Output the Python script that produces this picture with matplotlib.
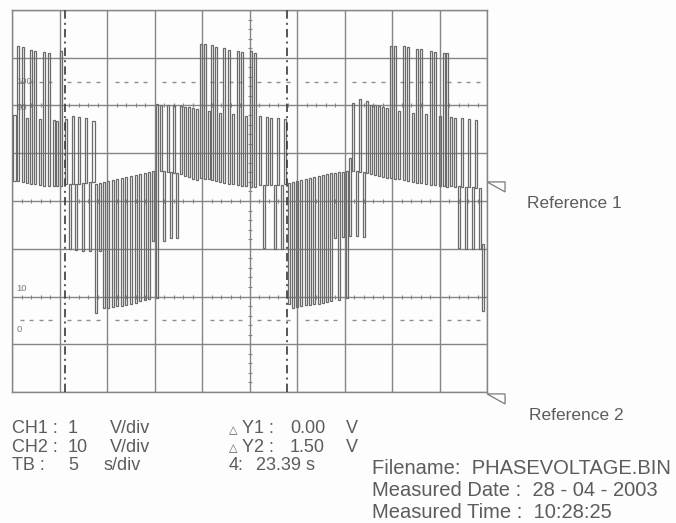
"""Scope printout: inverter phase voltage, CH2 10 V/div, TB 5 s/div."""
import matplotlib

matplotlib.use("Agg")

import matplotlib.pyplot as plt
import numpy as np
from matplotlib.patches import Polygon

INK = "#5c5c5c"
GRID = "#858585"
TRACE = "#6a6a6a"
FONT = ["Liberation Sans", "DejaVu Sans"]

# ---- trace: pulse centre (s), pulse top, pulse bottom
pulse_t = [
    0.25, 0.63, 1.16, 1.58, 2.00, 2.42, 2.95, 3.37, 3.89, 4.42, 4.74, 5.16,
    5.68, 6.11, 6.42, 6.74, 7.05, 7.47, 7.79, 8.21, 8.60,
    8.84, 9.26, 9.68, 10.11, 10.63, 11.05, 11.58, 12.00, 12.53, 13.05, 13.47,
    14.00, 14.42, 14.84, 15.26,
    15.68, 16.00, 16.42, 16.74, 17.05, 17.37, 17.79, 18.21, 18.63, 19.05, 19.47,
    19.89, 20.32, 20.74, 21.05, 21.47, 21.89, 22.32, 22.84, 23.26, 23.79, 24.21,
    24.63, 25.16, 25.58,
    26.11, 26.53, 26.84, 27.26, 27.68, 28.00, 28.42, 28.74,
    29.16, 29.58, 30.00, 30.42, 30.95, 31.37, 31.79, 32.32, 32.74, 33.16, 33.58,
    34.00, 34.42, 34.84, 35.26,
    35.58, 35.89, 36.32, 36.63, 37.05, 37.37, 37.79, 38.21, 38.63, 39.05, 39.47,
    39.89, 40.32, 40.74, 41.26, 41.68, 42.21, 42.63, 43.05, 43.58, 44.11, 44.53,
    45.05, 45.47, 45.79,
    46.21, 46.63, 47.05, 47.37, 47.79, 48.11, 48.53, 48.84, 49.26, 49.58,
]
pulse_hi = [
    86.0, 114.9, 114.5, 84.8, 113.2, 112.8, 84.3, 112.4, 112.0, 83.9, 83.5, 112.8,
    84.3, 57.1, 85.6, 57.1, 85.2, 57.5, 84.8, 58.0, 83.5,
    57.1, 57.5, 58.0, 58.4, 58.8, 59.2, 59.6, 60.1, 60.5, 60.9, 61.3,
    61.7, 62.1, 62.6, 90.6,
    90.2, 62.6, 90.2, 62.1, 90.2, 61.7, 89.8, 89.4, 89.4, 89.0, 88.5,
    115.8, 115.8, 87.7, 115.3, 114.5, 86.9, 114.1, 113.2, 86.4, 112.8, 112.4,
    85.6, 112.8, 112.0,
    85.6, 56.7, 85.2, 84.8, 56.7, 84.8, 56.7, 84.3,
    57.5, 58.0, 58.4, 58.8, 59.2, 59.6, 60.1, 60.5, 60.9, 61.3, 61.7,
    61.7, 62.1, 62.1, 62.6,
    68.0, 91.0, 62.6, 92.7, 62.1, 91.9, 90.2, 90.2, 89.8, 89.4, 89.0,
    114.9, 114.9, 87.7, 114.9, 114.5, 86.9, 113.7, 113.7, 86.4, 112.8, 112.4,
    85.6, 112.0, 112.0,
    85.2, 84.8, 56.3, 84.8, 55.9, 84.3, 55.9, 83.9, 55.4, 32.0,
]
pulse_lo = [
    58.4, 58.4, 58.0, 57.5, 57.1, 57.1, 56.7, 56.3, 56.3, 56.3, 56.3, 56.3,
    57.1, 29.9, 57.1, 29.5, 57.1, 29.1, 57.5, 29.1, 58.0,
    3.1, 29.1, 5.2, 5.2, 5.6, 6.0, 6.0, 6.4, 6.9, 7.3, 8.1,
    8.5, 9.0, 33.2, 9.4,
    62.6, 33.2, 62.1, 34.5, 61.7, 34.5, 61.3, 60.5, 60.1, 59.2, 58.8,
    59.6, 59.2, 59.2, 58.8, 58.4, 58.0, 57.5, 57.1, 57.1, 56.7, 56.3,
    56.3, 55.9, 55.9,
    56.7, 30.3, 56.7, 56.7, 29.9, 56.7, 29.9, 57.1,
    6.9, 5.2, 5.6, 6.0, 6.4, 6.4, 6.9, 6.9, 7.3, 7.7, 8.1,
    34.5, 8.5, 34.9, 9.4,
    35.3, 62.6, 35.3, 62.1, 34.9, 61.7, 61.3, 60.9, 60.5, 60.1, 59.6,
    59.6, 59.2, 59.2, 58.8, 58.4, 58.0, 57.5, 57.5, 57.1, 56.7, 56.7,
    56.3, 56.3, 55.9,
    56.3, 55.9, 30.3, 55.9, 29.9, 55.9, 29.9, 55.4, 29.9, 3.9,
]

cursor_t = [5.60, 28.99]
scale_labels = ["100", "90", "10", "0"]
scale_levels = [100, 90, 10, 0]
ref_names = ["Reference 1", "Reference 2"]
ref_levels = [58.0, -30.8]

settings_left = [("CH1 :", "1", "V/div"), ("CH2 :", "10", "V/div"), ("TB :", "5", "s/div")]
cursor_rows = [("Y1 :", "0.00", "V"), ("Y2 :", "1.50", "V")]
delta_t = "23.39 s"
file_info = [
    "Filename:  PHASEVOLTAGE.BIN",
    "Measured Date :  28 - 04 - 2003",
    "Measured Time :  10:28:25",
]

W, H = 676, 523


def fx(px):
    return px / W


def fy(py):
    return 1 - py / H


fig = plt.figure(figsize=(W / 100, H / 100), dpi=100)
fig.patch.set_facecolor("#fdfdfd")
ax = fig.add_axes([fx(12), fy(392), 475 / W, 382 / H])
ax.set_facecolor("#fdfdfd")
ax.set_xlim(0, 50)
ax.set_ylim(-30, 130)

# graticule
ax.set_xticks(np.arange(0, 51, 5))
ax.set_yticks(np.arange(-30, 131, 20))
ax.tick_params(length=0, labelbottom=False, labelleft=False)
ax.grid(True, color=GRID, lw=1.0)
for s in ax.spines.values():
    s.set_color(GRID)
    s.set_linewidth(1.0)

fine_t = np.arange(1, 50, 1.0)
for lvl in (90, 50, 10):
    ax.plot(fine_t, np.full_like(fine_t, lvl), ls="none", marker="|",
            ms=3.2, mew=0.8, color=GRID)
fine_v = np.arange(-26, 130, 4.0)
ax.plot(np.full_like(fine_v, 25), fine_v, ls="none", marker="_",
        ms=3.2, mew=0.8, color=GRID)
dot_t = fine_t[fine_t % 5 != 0]
for lvl in (100, 0):
    ax.plot(dot_t, np.full_like(dot_t, lvl), ls="none", marker="_",
            ms=2.6, mew=1.0, color="#8f8f8f")

for lab, lvl, off in zip(scale_labels, scale_levels, (0, -0.8, 3.5, -3.8)):
    ax.text(0.45, lvl + off, lab, fontsize=6.8, color="#777777", va="center",
            ha="left", family=FONT)

# trace
hi = np.array(pulse_hi)
lo = np.array(pulse_lo)
ax.bar(pulse_t, hi - lo, bottom=lo, width=0.27, fill=False,
       edgecolor=TRACE, linewidth=0.9, zorder=3)

# cursors
for ct in cursor_t:
    ax.axvline(ct, color="#3a3a3a", lw=1.2, ls=(0, (5, 2.5, 1.2, 2.5)), zorder=4)

# reference markers
for lvl in ref_levels:
    tri = Polygon([[50.0, lvl], [51.9, lvl], [51.9, lvl - 4.2]], closed=True,
                  fill=False, edgecolor="#7a7a7a", lw=0.9, clip_on=False)
    ax.add_patch(tri)

fig.text(fx(527), fy(208), ref_names[0], fontsize=12.5, color=INK, family=FONT)
fig.text(fx(529), fy(420), ref_names[1], fontsize=12.5, color=INK, family=FONT)

# settings block
for i, (lab, val, unit) in enumerate(settings_left):
    y = fy(433 + 18.5 * i)
    fig.text(fx(12), y, lab, fontsize=13, color=INK, family=FONT)
    fig.text(fx(68), y, val, fontsize=13, color=INK, family=FONT)
    fig.text(fx(110 if unit == "V/div" else 104), y, unit, fontsize=13,
             color=INK, family=FONT)

for i, (lab, val, unit) in enumerate(cursor_rows):
    y = fy(433 + 18.5 * i)
    fig.text(fx(229), y, "\u25b3", fontsize=8, color=INK, family=FONT)
    fig.text(fx(242), y, lab, fontsize=13, color=INK, family=FONT)
    fig.text(fx(290), y, val, fontsize=13, color=INK, family=FONT)
    fig.text(fx(346), y, unit, fontsize=13, color=INK, family=FONT)
fig.text(fx(229), fy(470), "4:", fontsize=13, color=INK, family=FONT)
fig.text(fx(256), fy(470), delta_t, fontsize=13, color=INK, family=FONT)

for i, line in enumerate(file_info):
    fig.text(fx(372), fy(474 + 22 * i), line, fontsize=14.5, color=INK, family=FONT)

fig.savefig("out.png", dpi=100, facecolor=fig.get_facecolor())
